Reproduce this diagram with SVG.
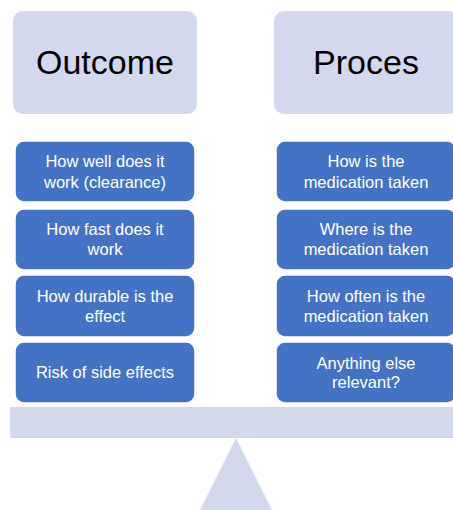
<svg xmlns="http://www.w3.org/2000/svg" width="453" height="510" viewBox="0 0 453 510">
<style>
.head{fill:#D3D8EC;}
.item{fill:#4472C4;stroke:#FFFFFF;stroke-width:1.5;}
.ht{font-family:"Liberation Sans",Arial,sans-serif;font-size:34px;fill:#000;text-anchor:middle;}
.it{font-family:"Liberation Sans",Arial,sans-serif;font-size:16.5px;fill:#FFFFFF;text-anchor:middle;}
.base{fill:#D3D8EC;}
</style>
<rect width="453" height="510" fill="#FFFFFF"/>
<g id="scale">
<rect class="base" x="10" y="407" width="445" height="31"/>
<polygon class="base" points="236,438 199,512 273,512"/>
</g>
<g id="outcome">
<rect class="head" x="13" y="11" width="184" height="103" rx="10"/>
<text class="ht" x="105" y="74">Outcome</text>
</g>
<g id="proces">
<rect class="head" x="274" y="11" width="184" height="103" rx="10"/>
<text class="ht" x="366" y="74">Proces</text>
</g>
<g id="o1">
<rect class="item" x="15" y="141" width="180" height="61" rx="9"/>
<text class="it" x="105" y="167">How well does it</text>
<text class="it" x="105" y="188">work (clearance)</text>
</g>
<g id="o2">
<rect class="item" x="15" y="209" width="180" height="61" rx="9"/>
<text class="it" x="105" y="235">How fast does it</text>
<text class="it" x="105" y="255">work</text>
</g>
<g id="o3">
<rect class="item" x="15" y="275" width="180" height="62" rx="9"/>
<text class="it" x="105" y="302">How durable is the</text>
<text class="it" x="105" y="322">effect</text>
</g>
<g id="o4">
<rect class="item" x="15" y="342" width="180" height="61" rx="9"/>
<text class="it" x="105" y="378">Risk of side effects</text>
</g>
<g id="p1">
<rect class="item" x="276" y="141" width="180" height="61" rx="9"/>
<text class="it" x="366" y="167">How is the</text>
<text class="it" x="366" y="188">medication taken</text>
</g>
<g id="p2">
<rect class="item" x="276" y="209" width="180" height="61" rx="9"/>
<text class="it" x="366" y="235">Where is the</text>
<text class="it" x="366" y="255">medication taken</text>
</g>
<g id="p3">
<rect class="item" x="276" y="275" width="180" height="62" rx="9"/>
<text class="it" x="366" y="302">How often is the</text>
<text class="it" x="366" y="322">medication taken</text>
</g>
<g id="p4">
<rect class="item" x="276" y="342" width="180" height="61" rx="9"/>
<text class="it" x="366" y="369">Anything else</text>
<text class="it" x="366" y="388">relevant?</text>
</g>
<g id="connectors"></g>
</svg>
